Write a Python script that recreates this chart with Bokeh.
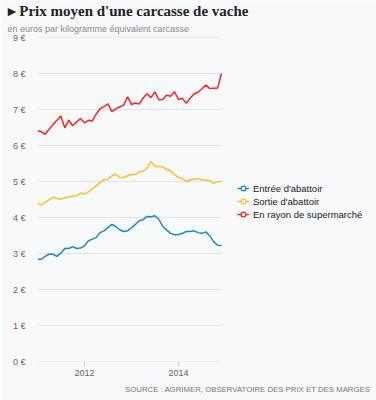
import pandas as pd
from bokeh.plotting import figure
from bokeh.models import (FixedTicker, PrintfTickFormatter, DatetimeTickFormatter,
                          Legend, LegendItem, Title, Range1d)
from bokeh.embed import file_html
from bokeh.resources import INLINE

months = pd.date_range("2011-01-01", periods=48, freq="MS").to_pydatetime()

entree = [2.84, 2.84, 2.92, 2.98, 2.98, 2.92, 3.01, 3.14, 3.14, 3.19, 3.14, 3.15,
          3.21, 3.35, 3.40, 3.44, 3.58, 3.63, 3.72, 3.81, 3.75, 3.66, 3.61, 3.63,
          3.72, 3.81, 3.91, 3.94, 4.03, 4.02, 4.05, 3.95, 3.75, 3.65, 3.56, 3.52,
          3.53, 3.56, 3.61, 3.61, 3.63, 3.58, 3.56, 3.60, 3.49, 3.33, 3.23, 3.22]
sortie = [4.40, 4.35, 4.42, 4.49, 4.56, 4.53, 4.51, 4.54, 4.57, 4.59, 4.60, 4.68,
          4.65, 4.71, 4.79, 4.88, 4.97, 5.05, 5.06, 5.16, 5.20, 5.11, 5.11, 5.16,
          5.20, 5.19, 5.27, 5.29, 5.36, 5.56, 5.42, 5.42, 5.40, 5.34, 5.30, 5.19,
          5.11, 5.08, 5.00, 5.05, 5.06, 5.08, 5.05, 5.04, 5.02, 4.95, 4.99, 5.00]
rayon = [6.41, 6.38, 6.31, 6.45, 6.58, 6.70, 6.82, 6.49, 6.70, 6.55, 6.65, 6.75,
         6.63, 6.70, 6.68, 6.87, 7.02, 7.08, 7.16, 6.94, 7.02, 7.07, 7.12, 7.35,
         7.14, 7.18, 7.15, 7.32, 7.44, 7.33, 7.49, 7.27, 7.28, 7.40, 7.37, 7.49,
         7.28, 7.31, 7.17, 7.31, 7.43, 7.48, 7.57, 7.68, 7.58, 7.59, 7.60, 8.00]

series_names = ["Entrée d'abattoir", "Sortie d'abattoir", "En rayon de supermarché"]
series_values = [entree, sortie, rayon]
series_colors = ["#1f87cc", "#ffbf2a", "#ff2222"]
y_ticks = [0, 1, 2, 3, 4, 5, 6, 7, 8, 9]
x_tick_years = ["2012-01-01", "2014-01-01"]

BG = "#f8f9fb"
GRID = "#dfe4ea"

W, H = 376, 400
LEFT = 37
DATA_RIGHT = 221          # screen x where the last month sits
frame_w = W - LEFT
span = months[-1] - months[0]
x_end = months[0] + span * (frame_w / (DATA_RIGHT - LEFT))

p = figure(width=W, height=H, x_axis_type="datetime", output_backend="svg",
           toolbar_location=None,
           x_range=Range1d(months[0], x_end), y_range=Range1d(0, 9),
           min_border_left=LEFT, min_border_right=0, min_border_top=0,
           min_border_bottom=39)
p.background_fill_color = BG
p.border_fill_color = BG
p.outline_line_color = None

# horizontal grid lines limited to the data span
p.segment(x0=[months[0]] * len(y_ticks), x1=[months[-1]] * len(y_ticks),
          y0=y_ticks, y1=y_ticks, line_color=GRID, line_width=1)

legend_items = []
for name, vals, col in zip(series_names, series_values, series_colors):
    lr = p.line(months, vals, line_color=col, line_width=1.5)
    # zero-size markers: invisible on the chart, drawn at legend size in the legend
    mr = p.scatter(months, vals, size=0, marker="circle", line_color=col,
                   fill_color="white", line_width=1.2)
    legend_items.append(LegendItem(label=name, renderers=[lr, mr], index=0))

legend = Legend(items=legend_items, location=(200, 141), orientation="vertical",
                background_fill_alpha=0, border_line_color=None,
                label_text_font="Liberation Sans", label_text_font_size="9.5px",
                label_text_color="#222222", glyph_width=12, glyph_height=12,
                label_height=12, spacing=1, padding=0, margin=0,
                label_standoff=4)
p.add_layout(legend)

p.yaxis.ticker = FixedTicker(ticks=y_ticks)
p.yaxis.formatter = PrintfTickFormatter(format="%d €")
p.yaxis.axis_line_color = None
p.yaxis.major_tick_line_color = None
p.yaxis.minor_tick_line_color = None
p.yaxis.major_label_text_color = "#666666"
p.yaxis.major_label_text_font = "Liberation Sans"
p.yaxis.major_label_text_font_size = "9px"
p.yaxis.major_label_standoff = 6

p.xaxis.ticker = FixedTicker(ticks=[pd.Timestamp(d).value // 10**6 for d in x_tick_years])
p.xaxis.formatter = DatetimeTickFormatter(years="%Y", months="%Y", days="%Y")
p.xaxis.axis_line_color = None
p.xaxis.major_tick_line_color = "#ccd5df"
p.xaxis.major_tick_in = 0
p.xaxis.major_tick_out = 5
p.xaxis.minor_tick_line_color = None
p.xaxis.major_label_text_color = "#666666"
p.xaxis.major_label_text_font = "Liberation Sans"
p.xaxis.major_label_text_font_size = "9px"
p.xaxis.major_label_standoff = 3

p.xgrid.grid_line_color = None
p.ygrid.grid_line_color = None

p.title.text = "▸ Prix moyen d'une carcasse de vache"
p.title.text_font = "Liberation Serif"
p.title.text_font_style = "bold"
p.title.text_font_size = "15px"
p.title.text_color = "#222222"
p.title.offset = -30
p.title.standoff = 0

p.add_layout(Title(text="en euros par kilogramme équivalent carcasse",
                   text_font="Liberation Sans", text_font_style="normal",
                   text_font_size="9px", text_color="#888888",
                   offset=-30, standoff=7), "above")

p.add_layout(Title(text="SOURCE : AGRIMER, OBSERVATOIRE DES PRIX ET DES MARGES",
                   text_font="Liberation Sans", text_font_style="normal",
                   text_font_size="7.8px", text_color="#777777",
                   align="right", offset=6, standoff=8), "below")

open("out.html", "w").write(file_html(p, INLINE))
